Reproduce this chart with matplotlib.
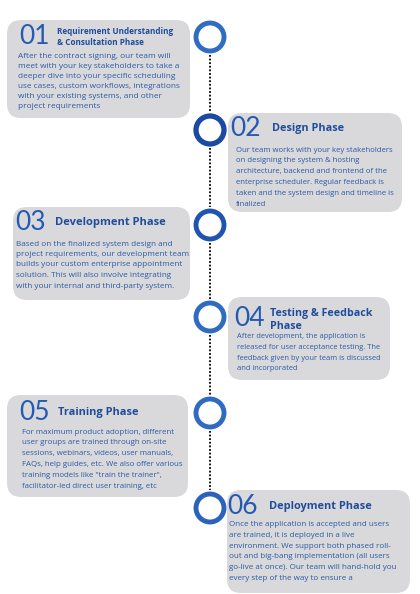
import matplotlib.pyplot as plt
from matplotlib.patches import FancyBboxPatch, Circle

# step data
step_numbers = ["01", "02", "03", "04", "05", "06"]
step_titles = [
    "Requirement Understanding\n& Consultation Phase",
    "Design Phase",
    "Development Phase",
    "Testing & Feedback\nPhase",
    "Training Phase",
    "Deployment Phase",
]
step_texts = [
    ["After the contract signing, our team will",
     "meet with your key stakeholders to take a",
     "deeper dive into your specific scheduling",
     "use cases, custom workflows, integrations",
     "with your existing systems, and other",
     "project requirements"],
    ["Our team works with your key stakeholders",
     "on designing the system & hosting",
     "architecture, backend and frontend of the",
     "enterprise scheduler. Regular feedback is",
     "taken and the system design and timeline is",
     "finalized"],
    ["Based on the finalized system design and",
     "project requirements, our development team",
     "builds your custom enterprise appointment",
     "solution. This will also involve integrating",
     "with your internal and third-party system."],
    ["After development, the application is",
     "released for user acceptance testing. The",
     "feedback given by your team is discussed",
     "and incorporated"],
    ["For maximum product adoption, different",
     "user groups are trained through on-site",
     "sessions, webinars, videos, user manuals,",
     "FAQs, help guides, etc. We also offer various",
     "training models like \"train the trainer\",",
     "facilitator-led direct user training, etc"],
    ["Once the application is accepted and users",
     "are trained, it is deployed in a live",
     "environment. We support both phased roll-",
     "out and big-bang implementation (all users",
     "go-live at once). Our team will hand-hold you",
     "every step of the way to ensure a"],
]

# layout in pixels (x0, y0, x1, y1) of each card, and node centre y
boxes = [(7, 20, 190, 118), (228, 113, 402, 212), (13, 207, 190, 300),
         (228, 297, 390, 380), (7, 395, 188, 497), (227, 490, 410, 593)]
num_pos = [(19, 36), (230, 129), (15, 223), (234, 318), (19, 412), (227, 506)]
title_pos = [(57, 37), (272, 128), (55, 222), (270, 320), (58, 412), (269, 506)]
title_size = [5.9, 7.8, 8.0, 7.7, 7.9, 7.9]
body_pos = [(18, 57), (236, 150), (16, 244), (237, 337), (22, 432), (229, 525)]
body_size = [5.95, 5.6, 5.85, 5.45, 5.7, 5.8]
body_step = [10.0, 10.8, 10.5, 10.5, 10.9, 10.6]
node_y = [37, 130, 225, 317, 413, 508]
node_col = ["#2f6cc2", "#1b4aa3", "#1f55b0", "#2f6bc0", "#2f6bc2", "#2b63bb"]
node_x = 210

fig = plt.figure(figsize=(4.2, 5.94), dpi=100)
ax = fig.add_axes([0, 0, 1, 1])
ax.set_xlim(0, 420)
ax.set_ylim(594, 0)
ax.axis("off")

# dotted connector
for a, b in zip(node_y[:-1], node_y[1:]):
    ax.plot([node_x, node_x], [a + 18, b - 18], color="black", lw=1.3,
            linestyle=(0, (1, 1.0)), zorder=1)

for i in range(6):
    x0, y0, x1, y1 = boxes[i]
    ax.add_patch(FancyBboxPatch((x0 + 14, y0 + 14), x1 - x0 - 28, y1 - y0 - 28,
                                boxstyle="round,pad=14", fc="#d9d9db",
                                ec="none", zorder=2))
    ax.add_patch(Circle((node_x, node_y[i]), 14, fc="white", ec=node_col[i],
                        lw=3.8 if i == 1 else 3.5, zorder=3))
    nx, ny = num_pos[i]
    ax.text(nx, ny, step_numbers[i], fontsize=19, color="#2459b4",
            family="Lato", fontweight="normal", va="center", ha="left", zorder=4)
    tx, ty = title_pos[i]
    ax.text(tx, ty, step_titles[i], fontsize=title_size[i], color="#1f4c9c",
            family="Open Sans", fontweight="bold", va="center", ha="left",
            linespacing=1.2, zorder=4)
    bx, by = body_pos[i]
    for k, line in enumerate(step_texts[i]):
        ax.text(bx, by + k * body_step[i], line, fontsize=body_size[i],
                color="#2c5aa6", family="Open Sans", va="center", ha="left",
                zorder=4)

fig.savefig("out.png", dpi=100, facecolor="white")
